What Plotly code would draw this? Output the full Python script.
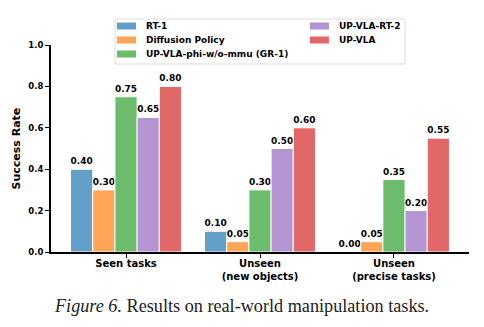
import plotly.graph_objects as go

categories = ["Seen tasks", "Unseen<br>(new objects)", "Unseen<br>(precise tasks)"]
series_names = ["RT-1", "Diffusion Policy", "UP-VLA-phi-w/o-mmu (GR-1)", "UP-VLA-RT-2", "UP-VLA"]
rt1 = [0.40, 0.10, 0.00]
diffusion = [0.30, 0.05, 0.05]
phi = [0.75, 0.30, 0.35]
rt2 = [0.65, 0.50, 0.20]
upvla = [0.80, 0.60, 0.55]
series_values = [rt1, diffusion, phi, rt2, upvla]
colors = ["#62a0ca", "#ffa556", "#6bbc6b", "#b495d1", "#e26868"]
y_ticks = [0.0, 0.2, 0.4, 0.6, 0.8, 1.0]


def bold(size):
    return dict(family="DejaVu Sans", size=size, color="black", weight="bold")


fig = go.Figure()
for name, vals, col in zip(series_names, series_values, colors):
    fig.add_trace(go.Bar(
        x=categories, y=vals, name=name,
        marker=dict(color=col, line=dict(color="white", width=1)),
        text=[f"{v:.2f}" for v in vals], textposition="outside",
        textfont=bold(9), cliponaxis=False, showlegend=False,
    ))

# plot area in pixels: x 51..469, y 45..252
W, L, T, B = 484, 51, 45, 252
PW, PH = W - 15 - L, B - T


def px(x):
    return (x - L) / PW


def py(y):
    return (B - y) / PH


shapes = []
annotations = []
# legend box (matplotlib style, two columns, column-major)
shapes.append(dict(type="rect", xref="paper", yref="paper",
                   x0=px(115), x1=px(405), y0=py(64), y1=py(19),
                   line=dict(color="#dddddd", width=1), fillcolor="rgba(255,255,255,0.8)",
                   layer="above"))
col_x = [117, 310]
row_y = [26, 40, 54]
for i, (name, col) in enumerate(zip(series_names, colors)):
    c, r = divmod(i, 3)
    x0 = col_x[c]
    yc = row_y[r]
    shapes.append(dict(type="rect", xref="paper", yref="paper",
                       x0=px(x0), x1=px(x0 + 19), y0=py(yc + 3.5), y1=py(yc - 3.5),
                       line=dict(width=0), fillcolor=col, layer="above"))
    annotations.append(dict(text=name, xref="paper", yref="paper",
                            x=px(x0 + 27), y=py(yc), xanchor="left", yanchor="middle",
                            showarrow=False, font=bold(9)))

annotations.append(dict(text="Success Rate", xref="paper", yref="paper", x=px(16), y=py(148.5),
                        xanchor="center", yanchor="middle", textangle=-90, showarrow=False,
                        font=bold(11)))
annotations.append(dict(text="<i>Figure 6.</i> Results on real-world manipulation tasks.",
                        xref="paper", yref="paper", x=px(241), y=py(306),
                        xanchor="center", yanchor="middle", showarrow=False,
                        font=dict(family="Liberation Serif", size=18.2, color="#222222",
                                  weight="normal")))

fig.update_layout(
    width=484, height=327,
    margin=dict(l=51, r=15, t=45, b=75),
    paper_bgcolor="white", plot_bgcolor="white",
    barmode="group", bargap=0.172, bargroupgap=0,
    font=bold(9),
    showlegend=False,
    xaxis=dict(
        type="category", range=[-0.56, 2.56],
        showline=True, linecolor="black", linewidth=2,
        ticks="outside", ticklen=4, tickwidth=1.2, tickcolor="black",
        tickfont=bold(10), showgrid=False, zeroline=False,
        ticklabelstandoff=-3,
    ),
    yaxis=dict(
        range=[0, 1.0], tickvals=y_ticks, tickformat=".1f",
        showline=True, linecolor="black", linewidth=2,
        ticks="outside", ticklen=4, tickwidth=1.2, tickcolor="black",
        tickfont=bold(8.5), showgrid=False, zeroline=False,
    ),
    shapes=shapes,
    annotations=annotations,
)

fig.write_html("out.html")
